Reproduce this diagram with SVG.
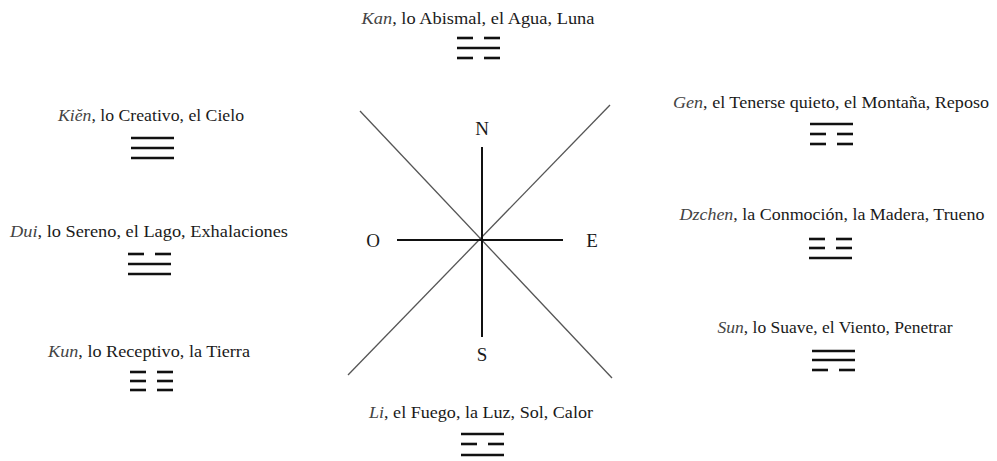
<svg xmlns="http://www.w3.org/2000/svg" xmlns:xlink="http://www.w3.org/1999/xlink" width="997" height="461" viewBox="0 0 997 461">
<style>
.t{font-family:"Liberation Serif","Times New Roman",serif;font-size:17px;fill:#1a1a1a;text-anchor:middle}
.n{font-style:italic;fill:#444}
.c{font-family:"Liberation Serif","Times New Roman",serif;font-size:19px;fill:#1a1a1a;text-anchor:middle}
.ln{stroke:#111;stroke-width:2.6}
.ax{stroke:#111;stroke-width:2}
.dg{stroke:#555;stroke-width:1.3}
</style>
<defs>
<g id="yang"><line class="ln" x1="0" y1="0" x2="43" y2="0"/></g>
<g id="yin"><line class="ln" x1="0" y1="0" x2="16" y2="0"/><line class="ln" x1="27" y1="0" x2="43" y2="0"/></g>
</defs>
<rect width="997" height="461" fill="#fff"/>
<g id="connectors">
<line class="dg" x1="360" y1="111" x2="612" y2="378"/>
<line class="dg" x1="610" y1="105" x2="348" y2="375"/>
<line class="ax" x1="482" y1="147" x2="482" y2="337"/>
<line class="ax" x1="397" y1="240" x2="563" y2="240"/>
</g>
<g id="compass">
<text class="c" x="482" y="135">N</text>
<text class="c" x="373" y="247">O</text>
<text class="c" x="592" y="247">E</text>
<text class="c" x="482" y="361">S</text>
</g>
<g id="kan">
<text class="t" x="478" y="24" textLength="233" lengthAdjust="spacingAndGlyphs"><tspan class="n">Kan</tspan>, lo Abismal,  el Agua, Luna</text>
<use href="#yin" x="457" y="38"/><use href="#yang" x="457" y="48"/><use href="#yin" x="457" y="58"/>
</g>
<g id="kien">
<text class="t" x="151" y="121" textLength="186" lengthAdjust="spacingAndGlyphs"><tspan class="n">Kiĕn</tspan>, lo Creativo, el Cielo</text>
<use href="#yang" x="131" y="138"/><use href="#yang" x="131" y="148"/><use href="#yang" x="131" y="158"/>
</g>
<g id="dui">
<text class="t" x="149" y="237" textLength="278" lengthAdjust="spacingAndGlyphs"><tspan class="n">Dui</tspan>, lo Sereno, el Lago, Exhalaciones</text>
<use href="#yin" x="128" y="254"/><use href="#yang" x="128" y="264"/><use href="#yang" x="128" y="274"/>
</g>
<g id="kun">
<text class="t" x="149" y="357" textLength="202" lengthAdjust="spacingAndGlyphs"><tspan class="n">Kun</tspan>, lo Receptivo, la Tierra</text>
<use href="#yin" x="130" y="372"/><use href="#yin" x="130" y="381"/><use href="#yin" x="130" y="390"/>
</g>
<g id="gen">
<text class="t" x="831" y="108" textLength="316" lengthAdjust="spacingAndGlyphs"><tspan class="n">Gen</tspan>, el Tenerse quieto, el Montaña, Reposo</text>
<use href="#yang" x="810" y="124"/><use href="#yin" x="810" y="134"/><use href="#yin" x="810" y="144"/>
</g>
<g id="dzchen">
<text class="t" x="832" y="220" textLength="305" lengthAdjust="spacingAndGlyphs"><tspan class="n">Dzchen</tspan>, la Conmoción, la Madera, Trueno</text>
<use href="#yin" x="809" y="239"/><use href="#yin" x="809" y="248"/><use href="#yang" x="809" y="258"/>
</g>
<g id="sun">
<text class="t" x="835" y="333" textLength="235" lengthAdjust="spacingAndGlyphs"><tspan class="n">Sun</tspan>, lo Suave, el Viento, Penetrar</text>
<use href="#yang" x="812" y="351"/><use href="#yang" x="812" y="360"/><use href="#yin" x="812" y="370"/>
</g>
<g id="li">
<text class="t" x="481" y="418" textLength="224" lengthAdjust="spacingAndGlyphs"><tspan class="n">Li</tspan>, el Fuego, la Luz, Sol, Calor</text>
<use href="#yang" x="461" y="434"/><use href="#yin" x="461" y="444"/><use href="#yang" x="461" y="455"/>
</g>
</svg>
